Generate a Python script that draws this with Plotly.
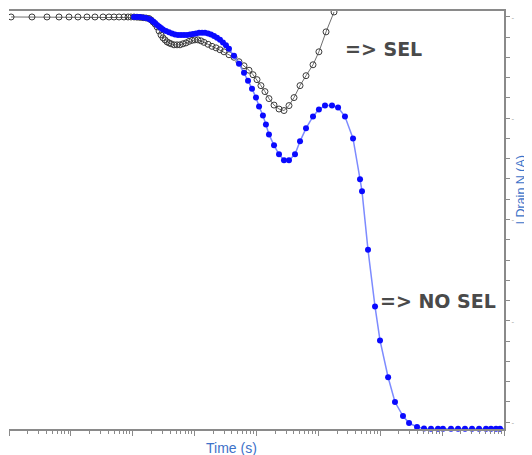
import plotly.graph_objects as go

# ---- data ----
time_sel = [1.08e-9, 2.35e-9, 4.11e-9, 6.43e-9, 9.33e-9,
            1.30e-8, 1.82e-8, 2.45e-8, 3.31e-8, 4.13e-8, 4.98e-8, 6.00e-8, 7.22e-8, 8.38e-8, 9.37e-8,
            1.05e-7, 1.17e-7, 1.31e-7, 1.47e-7, 1.64e-7, 1.83e-7, 1.97e-7, 2.13e-7, 2.29e-7, 2.47e-7,
            2.66e-7, 2.86e-7, 3.08e-7, 3.32e-7, 3.58e-7, 3.85e-7, 4.15e-7, 4.64e-7, 5.19e-7, 5.80e-7,
            6.49e-7, 7.25e-7, 8.11e-7, 9.07e-7,
            1.01e-6, 1.13e-6, 1.27e-6, 1.42e-6, 1.65e-6, 1.91e-6, 2.22e-6, 2.57e-6, 2.98e-6, 3.59e-6,
            4.33e-6, 5.21e-6, 6.28e-6, 7.57e-6, 8.78e-6,
            1.02e-5, 1.18e-5, 1.37e-5, 1.59e-5, 1.92e-5, 2.31e-5, 2.78e-5, 3.35e-5, 4.04e-5, 5.05e-5,
            6.31e-5, 8.19e-5,
            1.02e-4, 1.33e-4, 1.79e-4]
idrain_sel = [4.000, 4.000, 4.000, 4.000, 4.000,
              4.000, 4.000, 4.000, 4.000, 4.000, 4.000, 4.000, 4.000, 4.000, 4.000,
              4.000, 3.998, 3.996, 3.993, 3.990, 3.985, 3.971, 3.951, 3.931, 3.902,
              3.862, 3.823, 3.794, 3.774, 3.754, 3.744, 3.735, 3.725, 3.725, 3.725,
              3.735, 3.744, 3.759, 3.769,
              3.774, 3.774, 3.764, 3.749, 3.730, 3.710, 3.695, 3.676, 3.656, 3.627,
              3.602, 3.558, 3.518, 3.474, 3.430,
              3.381, 3.322, 3.263, 3.194, 3.130, 3.091, 3.076, 3.125, 3.204, 3.322,
              3.420, 3.528,
              3.656, 3.853, 4.049]

time_nosel = [1.05e-7, 1.17e-7, 1.31e-7, 1.47e-7, 1.64e-7, 1.83e-7, 1.97e-7, 2.13e-7, 2.29e-7, 2.47e-7,
              2.66e-7, 2.86e-7, 3.08e-7, 3.45e-7, 3.85e-7, 4.31e-7, 4.82e-7, 5.39e-7, 6.02e-7, 6.73e-7,
              7.53e-7, 8.42e-7, 9.41e-7,
              1.05e-6, 1.18e-6, 1.32e-6, 1.47e-6, 1.65e-6, 1.84e-6, 2.06e-6, 2.30e-6, 2.57e-6, 2.87e-6,
              3.21e-6, 3.59e-6, 4.33e-6, 5.21e-6, 6.28e-6, 7.29e-6, 8.46e-6, 9.81e-6,
              1.10e-5, 1.27e-5, 1.42e-5, 1.59e-5, 1.92e-5, 2.31e-5, 2.78e-5, 3.35e-5, 4.19e-5, 5.05e-5,
              6.31e-5, 8.19e-5,
              1.02e-4, 1.28e-4, 1.66e-4, 2.08e-4, 2.69e-4, 3.63e-4, 4.71e-4, 5.07e-4, 6.34e-4, 8.23e-4,
              9.91e-4,
              1.34e-3, 1.73e-3, 2.33e-3, 2.92e-3, 3.93e-3, 5.10e-3, 6.61e-3, 8.58e-3,
              1.03e-2, 1.39e-2, 1.81e-2, 2.34e-2, 3.04e-2, 3.95e-2, 5.12e-2, 6.17e-2, 7.43e-2, 8.62e-2,
              1.00e-1]
idrain_nosel = [4.000, 4.000, 4.000, 3.995, 3.990, 3.980, 3.971, 3.956, 3.941, 3.921,
                3.907, 3.892, 3.877, 3.862, 3.848, 3.838, 3.828, 3.823, 3.823, 3.823,
                3.823, 3.828, 3.833,
                3.838, 3.843, 3.843, 3.843, 3.838, 3.828, 3.813, 3.794, 3.774, 3.749,
                3.720, 3.685, 3.617, 3.538, 3.450, 3.371, 3.292, 3.204,
                3.115, 3.027, 2.939, 2.840, 2.732, 2.644, 2.585, 2.585, 2.644, 2.772,
                2.900, 3.018,
                3.086, 3.125, 3.125, 3.106, 3.017, 2.801, 2.398, 2.280, 1.700, 1.140,
                0.806,
                0.442, 0.197, 0.059, -0.010, -0.049, -0.064, -0.067, -0.067,
                -0.067, -0.067, -0.067, -0.067, -0.067, -0.067, -0.067, -0.067, -0.067, -0.067,
                -0.067]

label_sel = "=> SEL"
label_nosel = "=> NO SEL"
x_title = "Time (s)"
y_title = "I Drain N (A)"

AXIS_GRAY = "#8a8a8a"

fig = go.Figure()
fig.add_trace(go.Scatter(
    x=time_sel, y=idrain_sel, mode="lines+markers", name="SEL",
    line=dict(color="#6e6e6e", width=1),
    marker=dict(symbol="circle-open", size=6, color="#3c3c3c", line=dict(width=1)),
    yaxis="y", cliponaxis=True, showlegend=False))
fig.add_trace(go.Scatter(
    x=time_nosel, y=idrain_nosel, mode="lines+markers", name="NO SEL",
    line=dict(color="#7d8bff", width=1.5),
    marker=dict(symbol="circle", size=6, color="#0a0aff"),
    yaxis="y", cliponaxis=False, showlegend=False))

decades = [10.0 ** e for e in range(-9, 0)]
minor_vals = [k * 10.0 ** e for e in range(-9, -1) for k in range(2, 10)]

# the page body already adds an 8px offset
fig.update_layout(
    width=524, height=447,
    margin=dict(l=1, r=28, t=1, b=26),
    paper_bgcolor="white", plot_bgcolor="white",
    showlegend=False,
    xaxis=dict(type="log", range=[-9, -1], showgrid=False, zeroline=False,
               showline=True, linecolor=AXIS_GRAY, linewidth=2, mirror=True,
               ticks="outside", ticklen=5, tickwidth=1, tickcolor=AXIS_GRAY,
               tickmode="array", tickvals=decades, showticklabels=False,
               minor=dict(tickmode="array", tickvals=minor_vals, ticks="outside",
                          ticklen=3, tickwidth=1, tickcolor=AXIS_GRAY, showgrid=False)),
    yaxis=dict(range=[-0.069, 4.059], side="right", showgrid=False, zeroline=False,
               showline=True, linecolor=AXIS_GRAY, linewidth=2,
               ticks="outside", ticklen=4, tickwidth=1, tickcolor=AXIS_GRAY,
               tickmode="array", tickvals=[0, 1, 2, 3, 4], ticktext=["-"] * 5,
               tickfont=dict(size=8, color="#9a9a9a"),
               minor=dict(tickmode="array", tickvals=[i / 5 for i in range(0, 21)],
                          ticks="outside", ticklen=4, tickwidth=1, tickcolor=AXIS_GRAY)),
    yaxis2=dict(range=[0, 25], overlaying="y", side="left", anchor="x",
                showgrid=False, zeroline=False, showline=True,
                linecolor="#6a6a6a", linewidth=2,
                ticks="inside", ticklen=2, tickwidth=1, tickcolor="#6a6a6a",
                tickmode="linear", tick0=0, dtick=1, showticklabels=False),
)

fig.add_annotation(text="<b>" + label_sel + "</b>", xref="paper", yref="paper",
                   x=0.675, y=0.9095, xanchor="left", yanchor="middle", showarrow=False,
                   font=dict(family="DejaVu Sans", size=19, color="#4a4a4a"))
fig.add_annotation(text="<b>" + label_nosel + "</b>", xref="paper", yref="paper",
                   x=0.7455, y=0.3071, xanchor="left", yanchor="middle", showarrow=False,
                   font=dict(family="DejaVu Sans", size=19, color="#4a4a4a"))
fig.add_annotation(text=x_title, xref="paper", yref="paper",
                   x=0.4505, y=-0.045, xanchor="center", yanchor="middle", showarrow=False,
                   font=dict(family="Liberation Sans, Arial", size=14, color="#3d72c9"))
fig.add_annotation(text=y_title, xref="paper", yref="paper",
                   x=1.035, y=0.5714, xanchor="center", yanchor="middle", showarrow=False,
                   textangle=-90,
                   font=dict(family="Liberation Sans, Arial", size=12.5, color="#3d72c9"))

fig.write_html("out.html")
